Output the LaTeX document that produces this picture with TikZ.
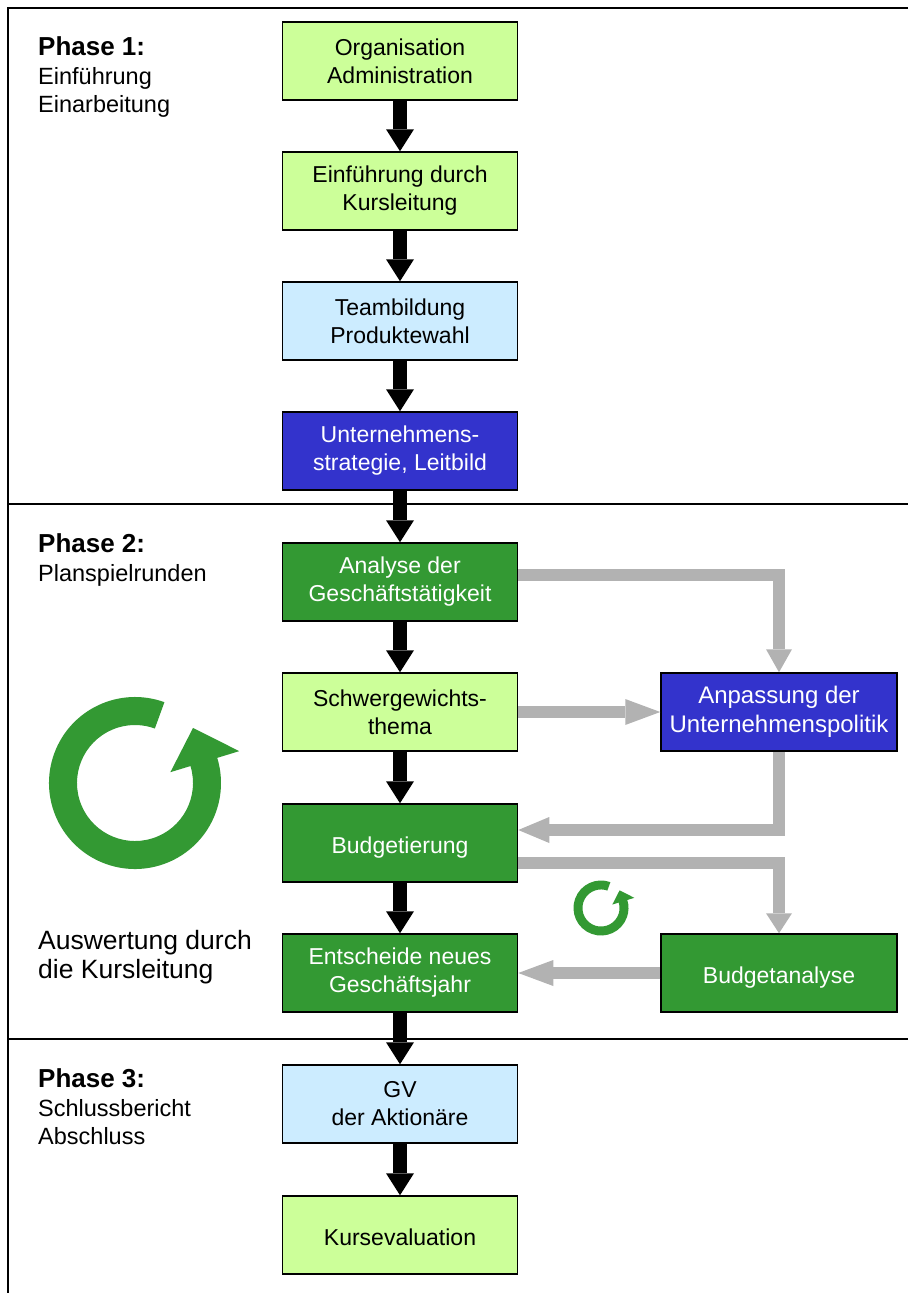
\documentclass[tikz,border=0pt]{standalone}
\usepackage{fontspec}
\setmainfont{Liberation Sans}
\usetikzlibrary{arrows.meta}
\definecolor{lgreen}{HTML}{CCFF99}
\definecolor{dgreen}{HTML}{339933}
\definecolor{lblue}{HTML}{CCECFF}
\definecolor{dblue}{HTML}{3333CC}
\definecolor{grayc}{HTML}{B2B2B2}
\newcommand\recycshape{\fill[dgreen] (70:86pt) arc[start angle=70,end angle=377,radius=86pt] -- (377:109pt) -- (43.5:80pt) -- (377:37pt) -- (377:58pt) arc[start angle=377,end angle=70,radius=58pt] -- cycle;}
\begin{document}
\begin{tikzpicture}[x=1pt,y=-1pt,
 box/.style={draw=black, line width=1.5pt, minimum width=235pt, minimum height=78pt, inner sep=0pt, align=center, font=\fontsize{23}{28}\selectfont},
 lg/.style={box, fill=lgreen},
 dg/.style={box, fill=dgreen, text=white},
 lb/.style={box, fill=lblue},
 db/.style={box, fill=dblue, text=white},
 oneline/.style={text height=25pt, text depth=5pt},
 blk/.style={line width=14pt, -{Triangle[width=28pt,length=22pt,line width=0pt]}},
 gra/.style={line width=12pt, draw=grayc, line join=miter, -{Triangle[width=26pt,length=#1,line width=0pt]}},
 gra/.default=28pt,
 lbl/.style={anchor=base west, inner sep=0pt, font=\fontsize{23.5}{28}\selectfont},
 lblb/.style={anchor=base west, inner sep=0pt, font=\fontsize{26}{30}\selectfont\bfseries},
 lbla/.style={anchor=base west, inner sep=0pt, font=\fontsize{26.5}{30}\selectfont},
 frame/.style={line width=1.3pt}
]
\useasboundingbox (0,0) rectangle (908,1293);
% frame
\coordinate (tl) at (8,8);
\coordinate (tr) at (908,8);
\coordinate (bl) at (8,1293);
\coordinate (d1l) at (8,504);
\coordinate (d1r) at (908,504);
\coordinate (d2l) at (8,1039);
\coordinate (d2r) at (908,1039);
\draw[frame] (tr) -- (tl) -- (bl);
\draw[frame] (d1l) -- (d1r);
\draw[frame] (d2l) -- (d2r);
% labels
\node[lblb] (p1) at (38,55) {Phase 1:};
\node[lbl] (p1a) at (38,84) {Einführung};
\node[lbl] (p1b) at (38,112) {Einarbeitung};
\node[lblb] (p2) at (38,552) {Phase 2:};
\node[lbl] (p2a) at (38,581) {Planspielrunden};
\node[lblb] (p3) at (38,1087) {Phase 3:};
\node[lbl] (p3a) at (38,1116) {Schlussbericht};
\node[lbl] (p3b) at (38,1144) {Abschluss};
\node[lbla] (aw1) at (38,949) {Auswertung durch};
\node[lbla] (aw2) at (38,978) {die Kursleitung};
% boxes
\node[lg] (org) at (400,61) {Organisation\\Administration};
\node[lg] (einf) at (400,191) {Einführung durch\\Kursleitung};
\node[lb] (team) at (400,321) {Teambildung\\Produktewahl};
\node[db] (strat) at (400,451) {Unternehmens-\\strategie, Leitbild};
\node[dg] (ana) at (400,582) {Analyse der\\Geschäftstätigkeit};
\node[lg] (schw) at (400,712) {Schwergewichts-\\thema};
\node[dg, oneline] (budg) at (400,843) {Budgetierung};
\node[dg] (ent) at (400,973) {Entscheide neues\\Geschäftsjahr};
\node[lb] (gv) at (400,1104) {GV\\der Aktionäre};
\node[lg, oneline] (kurs) at (400,1235) {Kursevaluation};
\node[db, minimum width=236pt, font=\fontsize{24}{29}\selectfont] (anp) at (779,712) {Anpassung der\\Unternehmenspolitik};
\node[dg, oneline, minimum width=236pt] (bana) at (779,973) {Budgetanalyse};
% black arrows
\draw[blk] (org) -- (einf);
\draw[blk] (einf) -- (team);
\draw[blk] (team) -- (strat);
\draw[blk] (strat) -- (ana);
\draw[blk] (ana) -- (schw);
\draw[blk] (schw) -- (budg);
\draw[blk] (budg) -- (ent);
\draw[blk] (ent) -- (gv);
\draw[blk] (gv) -- (kurs);
% gray arrows
\coordinate (y1) at (0,575);
\coordinate (y2) at (0,830);
\coordinate (y3) at (0,863);
\draw[gra=23pt] (ana.east |- y1) -| (anp.north);
\draw[gra=35pt] (schw.east) -- (anp.west);
\draw[gra=31pt] (anp.south) |- (budg.east |- y2);
\draw[gra=20pt] (budg.east |- y3) -| (bana.north);
\draw[gra=35pt] (bana.west) -- (ent.east);
% cycle arrows
\begin{scope}[shift={(135,783)}]
\recycshape
\end{scope}
\begin{scope}[shift={(601,908)}, scale=0.32]
\recycshape
\end{scope}
\end{tikzpicture}
\end{document}
